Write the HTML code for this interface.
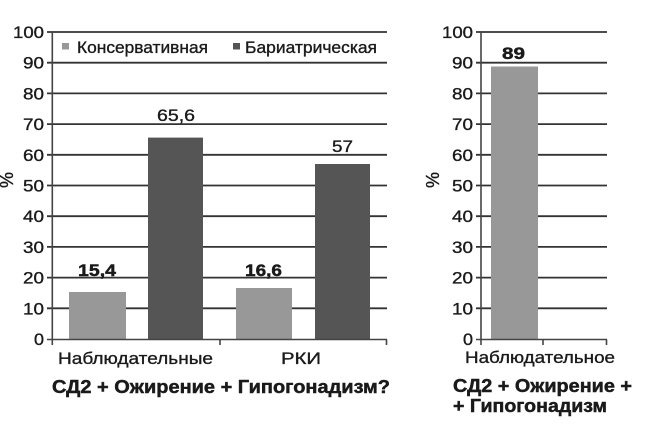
<!DOCTYPE html>
<html><head><meta charset="utf-8">
<style>
html,body{margin:0;padding:0;background:#fff;}
svg{display:block;}
text{font-family:"Liberation Sans","DejaVu Sans",sans-serif;fill:#1a1a1a;stroke:#1a1a1a;stroke-width:0.35;}
.b{font-weight:bold;stroke-width:0.45;}
</style></head>
<body>
<svg width="650" height="430" viewBox="0 0 650 430" xmlns="http://www.w3.org/2000/svg">
<rect width="650" height="430" fill="#fff"/>
<!-- LEFT CHART gridlines -->
<g stroke="#333" stroke-width="1.8">
<line x1="47" y1="32" x2="387" y2="32"/>
<line x1="47" y1="62.7" x2="387" y2="62.7"/>
<line x1="47" y1="93.4" x2="387" y2="93.4"/>
<line x1="47" y1="124.1" x2="387" y2="124.1"/>
<line x1="47" y1="154.8" x2="387" y2="154.8"/>
<line x1="47" y1="185.5" x2="387" y2="185.5"/>
<line x1="47" y1="216.2" x2="387" y2="216.2"/>
<line x1="47" y1="246.9" x2="387" y2="246.9"/>
<line x1="47" y1="277.6" x2="387" y2="277.6"/>
<line x1="47" y1="308.3" x2="387" y2="308.3"/>
</g>
<!-- bars -->
<rect x="69" y="292" width="57" height="47.5" fill="#989898"/>
<rect x="148" y="137.6" width="55" height="201.9" fill="#555"/>
<rect x="236" y="288" width="56" height="51.5" fill="#989898"/>
<rect x="315" y="164" width="55" height="175.5" fill="#555"/>
<!-- axes -->
<g stroke="#444" stroke-width="1.6">
<line x1="52.3" y1="32" x2="52.3" y2="339.5"/>
<line x1="47" y1="339.5" x2="387" y2="339.5"/>
<line x1="220" y1="339.5" x2="220" y2="345"/>
<line x1="386.5" y1="339.5" x2="386.5" y2="345"/>
<line x1="52.3" y1="339.5" x2="52.3" y2="345"/>
</g>
<!-- tick labels -->
<g font-size="17" text-anchor="end">
<text x="44" y="38" textLength="31" lengthAdjust="spacingAndGlyphs">100</text>
<text x="44" y="68.7" textLength="21" lengthAdjust="spacingAndGlyphs">90</text>
<text x="44" y="99.4" textLength="21" lengthAdjust="spacingAndGlyphs">80</text>
<text x="44" y="130.1" textLength="21" lengthAdjust="spacingAndGlyphs">70</text>
<text x="44" y="160.8" textLength="21" lengthAdjust="spacingAndGlyphs">60</text>
<text x="44" y="191.5" textLength="21" lengthAdjust="spacingAndGlyphs">50</text>
<text x="44" y="222.2" textLength="21" lengthAdjust="spacingAndGlyphs">40</text>
<text x="44" y="252.9" textLength="21" lengthAdjust="spacingAndGlyphs">30</text>
<text x="44" y="283.6" textLength="21" lengthAdjust="spacingAndGlyphs">20</text>
<text x="44" y="314.3" textLength="21" lengthAdjust="spacingAndGlyphs">10</text>
<text x="44" y="345" textLength="10" lengthAdjust="spacingAndGlyphs">0</text>
</g>
<text font-size="18" transform="translate(13,180) rotate(-90)" text-anchor="middle">%</text>
<!-- legend -->
<rect x="62" y="43" width="7" height="6.5" fill="#989898"/>
<text x="77" y="53" font-size="17" textLength="131" lengthAdjust="spacingAndGlyphs">Консервативная</text>
<rect x="233" y="43" width="7" height="6.5" fill="#555"/>
<text x="245" y="53" font-size="17" textLength="132" lengthAdjust="spacingAndGlyphs">Бариатрическая</text>
<!-- value labels -->
<text x="176" y="121" font-size="17" text-anchor="middle" textLength="38" lengthAdjust="spacingAndGlyphs">65,6</text>
<text x="342.5" y="152" font-size="17" text-anchor="middle" textLength="21" lengthAdjust="spacingAndGlyphs">57</text>
<text class="b" x="97" y="276" font-size="17" text-anchor="middle" textLength="38" lengthAdjust="spacingAndGlyphs">15,4</text>
<text class="b" x="263.5" y="276" font-size="17" text-anchor="middle" textLength="37" lengthAdjust="spacingAndGlyphs">16,6</text>
<!-- category labels -->
<text x="58" y="364" font-size="17" textLength="155" lengthAdjust="spacingAndGlyphs">Наблюдательные</text>
<text x="281" y="364" font-size="17" textLength="40" lengthAdjust="spacingAndGlyphs">РКИ</text>
<text class="b" x="52" y="393" font-size="18" textLength="338" lengthAdjust="spacingAndGlyphs">СД2 + Ожирение + Гипогонадизм?</text>

<!-- RIGHT CHART -->
<g stroke="#333" stroke-width="1.8">
<line x1="476" y1="32" x2="607" y2="32"/>
<line x1="476" y1="62.7" x2="607" y2="62.7"/>
<line x1="476" y1="93.4" x2="607" y2="93.4"/>
<line x1="476" y1="124.1" x2="607" y2="124.1"/>
<line x1="476" y1="154.8" x2="607" y2="154.8"/>
<line x1="476" y1="185.5" x2="607" y2="185.5"/>
<line x1="476" y1="216.2" x2="607" y2="216.2"/>
<line x1="476" y1="246.9" x2="607" y2="246.9"/>
<line x1="476" y1="277.6" x2="607" y2="277.6"/>
<line x1="476" y1="308.3" x2="607" y2="308.3"/>
</g>
<rect x="491" y="66.5" width="47" height="273" fill="#989898"/>
<g stroke="#444" stroke-width="1.6">
<line x1="481" y1="32" x2="481" y2="339.5"/>
<line x1="476" y1="339.5" x2="607" y2="339.5"/>
<line x1="481" y1="339.5" x2="481" y2="345"/>
<line x1="543" y1="339.5" x2="543" y2="345"/>
<line x1="606.5" y1="339.5" x2="606.5" y2="345"/>
</g>
<g font-size="17" text-anchor="end">
<text x="473" y="38" textLength="31" lengthAdjust="spacingAndGlyphs">100</text>
<text x="473" y="68.7" textLength="21" lengthAdjust="spacingAndGlyphs">90</text>
<text x="473" y="99.4" textLength="21" lengthAdjust="spacingAndGlyphs">80</text>
<text x="473" y="130.1" textLength="21" lengthAdjust="spacingAndGlyphs">70</text>
<text x="473" y="160.8" textLength="21" lengthAdjust="spacingAndGlyphs">60</text>
<text x="473" y="191.5" textLength="21" lengthAdjust="spacingAndGlyphs">50</text>
<text x="473" y="222.2" textLength="21" lengthAdjust="spacingAndGlyphs">40</text>
<text x="473" y="252.9" textLength="21" lengthAdjust="spacingAndGlyphs">30</text>
<text x="473" y="283.6" textLength="21" lengthAdjust="spacingAndGlyphs">20</text>
<text x="473" y="314.3" textLength="21" lengthAdjust="spacingAndGlyphs">10</text>
<text x="473" y="345" textLength="10" lengthAdjust="spacingAndGlyphs">0</text>
</g>
<text font-size="18" transform="translate(439,180) rotate(-90)" text-anchor="middle">%</text>
<text class="b" x="513.5" y="59" font-size="17" text-anchor="middle" textLength="23" lengthAdjust="spacingAndGlyphs">89</text>
<text x="465" y="363" font-size="17" textLength="150" lengthAdjust="spacingAndGlyphs">Наблюдательное</text>
<text class="b" x="453" y="392" font-size="18" textLength="179" lengthAdjust="spacingAndGlyphs">СД2 + Ожирение +</text>
<text class="b" x="453" y="412" font-size="18" textLength="154" lengthAdjust="spacingAndGlyphs">+ Гипогонадизм</text>
</svg>
</body></html>
